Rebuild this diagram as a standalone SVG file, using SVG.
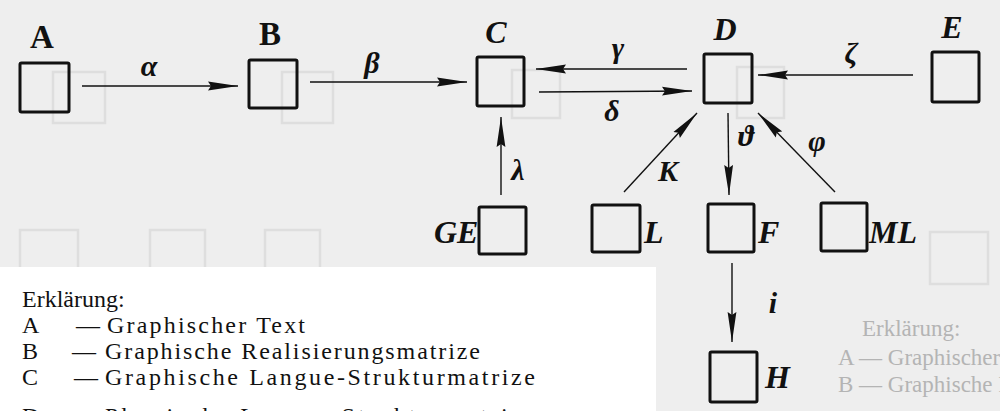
<svg xmlns="http://www.w3.org/2000/svg" width="1000" height="411" viewBox="0 0 1000 411">
  <defs>
    <style>
      .box { fill: none; stroke: #111; stroke-width: 3; }
      .edge { fill: none; stroke: #111; stroke-width: 1.4; marker-end: url(#spear); }
      .sym { font-family: "Liberation Serif", "DejaVu Serif", serif; font-style: italic; font-weight: bold; font-size: 30px; fill: #111; }
      .node { font-family: "Liberation Serif", "DejaVu Serif", serif; font-weight: bold; font-size: 33px; fill: #111; }
      .nodei { font-family: "Liberation Serif", "DejaVu Serif", serif; font-style: italic; font-weight: bold; font-size: 32px; fill: #111; }
      .leg { font-family: "Liberation Serif", "DejaVu Serif", serif; font-size: 24px; fill: #111; }
      .ghost { font-family: "Liberation Serif", "DejaVu Serif", serif; font-size: 23px; fill: #b4b4b4; }
      .ghostbox { fill: none; stroke: #dedede; stroke-width: 2.5; }
    </style>
    <!-- long narrow spear-shaped arrowhead -->
    <marker id="spear" viewBox="0 -5 30 10" refX="30" refY="0" markerWidth="30" markerHeight="10" markerUnits="userSpaceOnUse" orient="auto">
      <path d="M0,-4.4 L30,0 L0,4.4 L3,0 Z" fill="#111"/>
    </marker>
  </defs>

  <!-- paper -->
  <rect x="0" y="0" width="1000" height="411" fill="#eeeeee"/>

  <!-- show-through from the reverse side of the page -->
  <g id="reverse-side">
    <rect class="ghostbox" x="53" y="72" width="52" height="51"/>
    <rect class="ghostbox" x="282" y="72" width="51" height="51"/>
    <rect class="ghostbox" x="512" y="70" width="48" height="48"/>
    <rect class="ghostbox" x="737" y="67" width="47" height="51"/>
    <rect class="ghostbox" x="20" y="230" width="58" height="50"/>
    <rect class="ghostbox" x="150" y="230" width="55" height="50"/>
    <rect class="ghostbox" x="265" y="230" width="55" height="50"/>
    <rect class="ghostbox" x="930" y="232" width="58" height="52"/>
    <text class="ghost" x="862" y="336">Erklärung:</text>
    <text class="ghost" x="838" y="365">A  —  Graphischer  Text  (a</text>
    <text class="ghost" x="838" y="392">B  —  Graphische  Realisier</text>
  </g>

  <!-- pasted legend sheet -->
  <rect x="0" y="267" width="656" height="144" fill="#ffffff"/>

  <g id="connectors">
    <line class="edge" x1="82" y1="86" x2="238" y2="86"/>
    <line class="edge" x1="310" y1="82" x2="467" y2="82"/>
    <line class="edge" x1="687" y1="69" x2="536" y2="69"/>
    <line class="edge" x1="539" y1="92" x2="692" y2="91"/>
    <line class="edge" x1="913" y1="75" x2="758" y2="75"/>
    <line class="edge" x1="501" y1="195" x2="501" y2="117"/>
    <line class="edge" x1="624" y1="192" x2="697" y2="113"/>
    <line class="edge" x1="728" y1="113" x2="729" y2="195"/>
    <line class="edge" x1="835" y1="192" x2="758" y2="113"/>
    <line class="edge" x1="732" y1="263" x2="732" y2="342"/>
    <text class="sym" x="149" y="76" text-anchor="middle">α</text>
    <text class="sym" x="372" y="73" text-anchor="middle">β</text>
    <text class="sym" x="618" y="58" text-anchor="middle">γ</text>
    <text class="sym" x="612" y="121" text-anchor="middle">δ</text>
    <text class="sym" x="851" y="63" text-anchor="middle">ζ</text>
    <text class="sym" x="518" y="180" text-anchor="middle">λ</text>
    <text class="sym" x="668" y="181" text-anchor="middle">K</text>
    <text class="sym" x="746" y="146" text-anchor="middle">ϑ</text>
    <text class="sym" x="817" y="151" text-anchor="middle">φ</text>
    <text class="sym" x="773" y="313" text-anchor="middle">i</text>
  </g>

  <g id="node-A">
    <rect class="box" x="20" y="63" width="49" height="49" rx="1.5"/>
    <text class="node" x="42" y="48" text-anchor="middle">A</text>
  </g>
  <g id="node-B">
    <rect class="box" x="249" y="60" width="48" height="48" rx="1.5"/>
    <text class="node" x="270" y="45" text-anchor="middle">B</text>
  </g>
  <g id="node-C">
    <rect class="box" x="477" y="57" width="47" height="49" rx="1.5"/>
    <text class="nodei" x="496" y="43" text-anchor="middle">C</text>
  </g>
  <g id="node-D">
    <rect class="box" x="704" y="54" width="48" height="49" rx="1.5"/>
    <text class="nodei" x="725" y="40" text-anchor="middle">D</text>
  </g>
  <g id="node-E">
    <rect class="box" x="932" y="52" width="47" height="50" rx="1.5"/>
    <text class="nodei" x="952" y="38" text-anchor="middle">E</text>
  </g>
  <g id="node-GE">
    <rect class="box" x="479" y="207" width="47" height="47" rx="1.5"/>
    <text class="nodei" x="434" y="243">GE</text>
  </g>
  <g id="node-L">
    <rect class="box" x="592" y="205" width="48" height="47" rx="1.5"/>
    <text class="nodei" x="644" y="243">L</text>
  </g>
  <g id="node-F">
    <rect class="box" x="708" y="204" width="46" height="48" rx="1.5"/>
    <text class="nodei" x="758" y="243">F</text>
  </g>
  <g id="node-ML">
    <rect class="box" x="821" y="203" width="46" height="48" rx="1.5"/>
    <text class="nodei" x="869" y="243">ML</text>
  </g>
  <g id="node-H">
    <rect class="box" x="710" y="352" width="47" height="50" rx="1.5"/>
    <text class="nodei" x="765" y="388">H</text>
  </g>

  <g id="legend">
    <text class="leg" x="22" y="307">Erklärung:</text>
    <text class="leg" x="22" y="333">A</text>
    <text class="leg" x="76" y="333">—</text>
    <text class="leg" x="107" y="333" textLength="198" lengthAdjust="spacing">Graphischer  Text</text>
    <text class="leg" x="22" y="359">B</text>
    <text class="leg" x="72" y="359">—</text>
    <text class="leg" x="105" y="359" textLength="375" lengthAdjust="spacing">Graphische  Realisierungsmatrize</text>
    <text class="leg" x="22" y="385">C</text>
    <text class="leg" x="74" y="385">—</text>
    <text class="leg" x="105" y="385" textLength="430" lengthAdjust="spacing">Graphische  Langue-Strukturmatrize</text>
    <text class="leg" x="22" y="424">D</text>
    <text class="leg" x="74" y="424">—</text>
    <text class="leg" x="105" y="424" textLength="430" lengthAdjust="spacing">Phonische  Langue-Strukturmatrize</text>
  </g>
</svg>
